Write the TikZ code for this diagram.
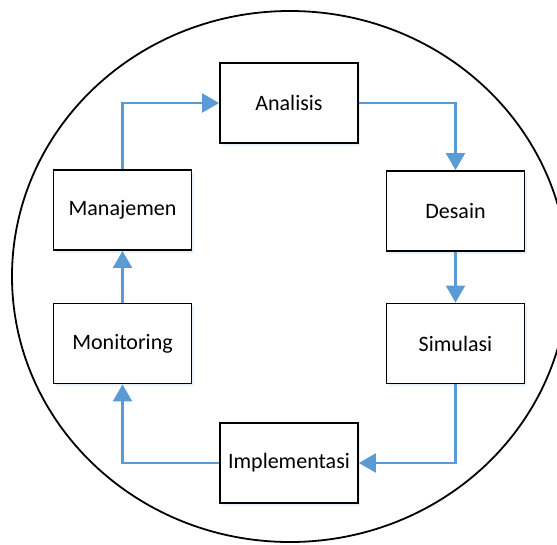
\documentclass[tikz,border=0pt]{standalone}
\usepackage{fontspec}
\setmainfont{Carlito}
\usetikzlibrary{arrows.meta,shadows}
\definecolor{flowblue}{RGB}{91,155,213}
\tikzset{
  stage/.style={draw=black, line width=1.8pt, fill=white, minimum width=138pt,
    minimum height=80pt, inner sep=0pt, font=\fontsize{22}{26}\selectfont,
    drop shadow={shadow xshift=2pt, shadow yshift=-2.5pt, fill=flowblue!40, opacity=0.35}},
  flow/.style={draw=flowblue, line width=2.2pt,
    -{Triangle[width=19pt,length=17pt]}}
}
\begin{document}
\begin{tikzpicture}[x=1pt,y=-1pt]
  \useasboundingbox (0,0) rectangle (557,544);
  % enclosing cycle
  \draw[line width=1.8pt] (290,276.5) ellipse [x radius=278, y radius=265.5];
  % stages
  \node[stage] (an) at (289,103)   {Analisis};
  \node[stage] (de) at (455.5,211) {Desain};
  \node[stage] (si) at (455.5,343.5) {Simulasi};
  \node[stage] (im) at (289,463)   {Implementasi};
  \node[stage] (mo) at (122.5,343.5) {Monitoring};
  \node[stage] (ma) at (122.5,210) {Manajemen};
  % flow between stages
  \draw[flow] (an.east) -| (de.north);
  \draw[flow] (de.south) -- (si.north);
  \draw[flow] (si.south) |- (im.east);
  \draw[flow] (im.west) -| (mo.south);
  \draw[flow] (mo.north) -- (ma.south);
  \draw[flow] (ma.north) |- (an.west);
\end{tikzpicture}
\end{document}
